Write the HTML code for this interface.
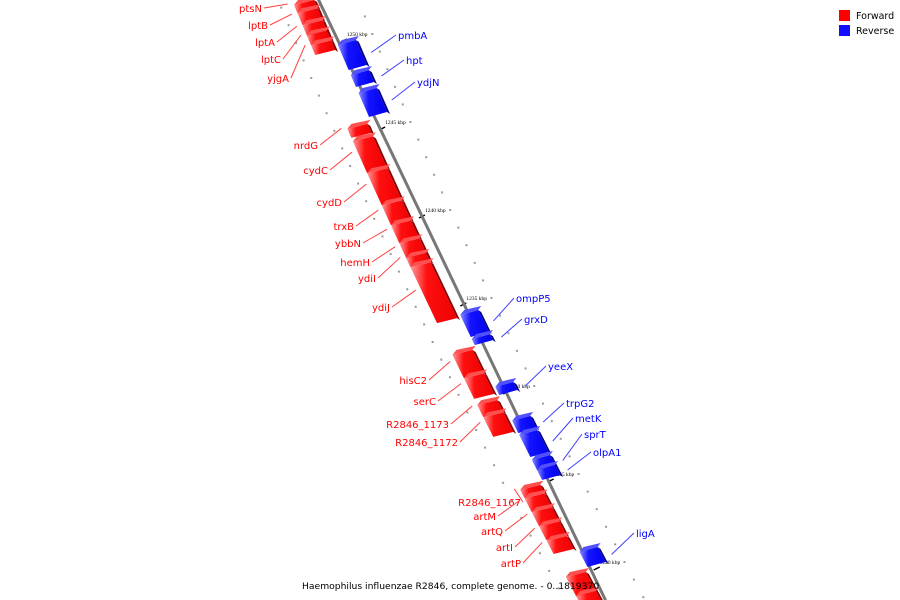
<!DOCTYPE html>
<html><head><meta charset="utf-8"><style>
html,body{margin:0;padding:0;background:#fff;}
svg{display:block;font-family:"DejaVu Sans","Liberation Sans",sans-serif;}
</style></head><body>
<svg id="chart" width="900" height="600" viewBox="0 0 900 600" xmlns="http://www.w3.org/2000/svg">
<defs>
<linearGradient id="gr" x1="0" x2="1" y1="0" y2="0"><stop offset="0" stop-color="#ff9a9a"/><stop offset="0.35" stop-color="#ff1010"/><stop offset="1" stop-color="#ee0000"/></linearGradient>
<linearGradient id="gb" x1="0" x2="1" y1="0" y2="0"><stop offset="0" stop-color="#8c8cff"/><stop offset="0.35" stop-color="#1414ff"/><stop offset="1" stop-color="#0000ee"/></linearGradient>
</defs>
<g id="ticks"></g>
<line id="axis" stroke="#777" stroke-width="3"/>
<g id="genes"></g>
<g id="labels"></g>
<g>
<rect x="839" y="10" width="11" height="11" fill="#ff0000"/>
<text x="856" y="19" font-size="9.5" fill="#000">Forward</text>
<rect x="839" y="25" width="11" height="11" fill="#1010ff"/>
<text x="856" y="34" font-size="9.5" fill="#000">Reverse</text>
</g>
<text x="302" y="589" font-size="9.2" fill="#000">Haemophilus influenzae R2846, complete genome. - 0..1819370</text>
</svg>
<script>
// data (kbp coordinates)
const tickKbp = [1250, 1245, 1240, 1235, 1230, 1225, 1220];
const fwdNames = ["ptsN","lptB","lptA","lptC","yjgA","nrdG","cydC","cydD","trxB","ybbN","hemH","ydiI","ydiJ","hisC2","serC","R2846_1173","R2846_1172","R2846_1167","artM","artQ","artI","artP","geneX1","geneX2"];
const fwdStart = [1251.93,1251.46,1250.78,1250.20,1249.64,1244.89,1244.18,1242.37,1240.55,1239.41,1238.39,1237.56,1237.03,1232.05,1230.72,1229.20,1228.50,1224.38,1223.90,1223.11,1222.31,1221.48,1219.43,1218.35];
const fwdEnd   = [1251.48,1250.80,1250.11,1249.66,1249.09,1244.38,1242.39,1240.57,1239.43,1238.41,1237.44,1237.05,1233.86,1230.74,1229.55,1228.52,1227.39,1223.92,1223.13,1222.33,1221.53,1220.74,1218.30,1217.27];
const fwdLabelX = [262,268,275,281,289,318,328,342,354,361,370,376,390,427,436,449,458,521,496,503,513,521,null,null];
const fwdLabelY = [12,29,46,63,82,149,174,206,230,247,266,282,311,384,405,428,446,506,520,535,551,567,null,null];
const revNames = ["pmbA","hpt","ydjN","ompP5","grxD","yeeX","trpG2","metK","sprT","olpA1","ligA"];
const revStart = [1249.66,1247.95,1246.93,1234.32,1232.95,1230.23,1228.30,1227.50,1226.08,1225.51,1220.85];
const revEnd   = [1248.24,1247.27,1245.57,1233.07,1232.61,1229.77,1227.61,1226.25,1225.45,1224.94,1220.00];
const revLabelX = [398,406,417,516,524,548,566,575,584,593,636];
const revLabelY = [39,64,86,302,323,370,407,422,438,456,537];

const NS="http://www.w3.org/2000/svg";
function yOf(k){ return 34 + (1250-k)*17.6; }
function xOf(y){ return 318 + 0.418*y + 0.0001*y*y; }
function mk(tag, attrs, parent){ const e=document.createElementNS(NS,tag); for(const a in attrs) e.setAttribute(a,attrs[a]); parent.appendChild(e); return e; }

const axis=document.getElementById('axis');
axis.setAttribute('x1', xOf(-10)); axis.setAttribute('y1', -10);
axis.setAttribute('x2', xOf(610)); axis.setAttribute('y2', 610);

const tg=document.getElementById('ticks');
for(let k=1253;k>=1217;k-=0.5){
  const y=yOf(k); const side=(Math.round(k*2)%2===0)?1:-1;
  const d=mk('rect',{x:xOf(y)+side*40-1,y:y-1,width:2,height:2,fill:'#999'},tg);
  
  
}
tickKbp.forEach((k)=>{
  const y=yOf(k)+6; const x=xOf(y);
  const l=mk('line',{x1:x+6,y1:y+2,x2:x+12,y2:y-1,stroke:'#000','stroke-width':1.5},tg);
  
  
  const t=mk('text',{x:x+12,y:y-4,'font-size':5.5,fill:'#000','font-family':'Liberation Serif, serif'},tg);
  t.textContent=k+' kbp';
  
  
});

const gg=document.getElementById('genes'), lg=document.getElementById('labels');
function block(k1,k2,fwd,name){
  const y1=yOf(k1), y2=yOf(k2);
  const o1 = fwd? -24 : 3, o2 = fwd? -4 : 21;
  const sh = 5;
  const g=mk('g',{},gg);
  
  
  const pts=[[xOf(y1)+o1,y1+sh],[xOf(y1)+o2,y1],[xOf(y2)+o2,y2],[xOf(y2)+o1,y2+sh]];
  mk('polygon',{points:pts.map(p=>p.join(',')).join(' '),fill:fwd?'url(#gr)':'url(#gb)'},g);
  const side=[[xOf(y1)+o2,y1],[xOf(y1)+o2+3,y1+2],[xOf(y2)+o2+3,y2+2],[xOf(y2)+o2,y2]];
  mk('polygon',{points:side.map(p=>p.join(',')).join(' '),fill:fwd?'#8a0000':'#00008a'},g);
  const cap=[[xOf(y1)+o1,y1+sh],[xOf(y1)+o1+4,y1+sh-5],[xOf(y1)+o2+3,y1-4],[xOf(y1)+o2,y1]];
  mk('polygon',{points:cap.map(p=>p.join(',')).join(' '),fill:fwd?'#ff5050':'#5050ff'},g);
  return {ym:(y1+y2)/2, xo:xOf((y1+y2)/2)+o1, xi:xOf((y1+y2)/2)+o2};
}
fwdNames.forEach((n,i)=>{
  const b=block(fwdStart[i],fwdEnd[i],true,n);
  if(fwdLabelX[i]===null) return;
  const ln=mk('line',{x1:fwdLabelX[i]+2,y1:fwdLabelY[i]-4,x2:b.xo-8,y2:b.ym,stroke:'#ff4040','stroke-width':1},lg);
  
  
  const t=mk('text',{x:fwdLabelX[i],y:fwdLabelY[i],'font-size':10,fill:'#ff0000','text-anchor':'end'},lg);
  t.textContent=n;
  
  
});
revNames.forEach((n,i)=>{
  const b=block(revStart[i],revEnd[i],false,n);
  const ln=mk('line',{x1:b.xi+10,y1:b.ym,x2:revLabelX[i]-2,y2:revLabelY[i]-4,stroke:'#4040ff','stroke-width':1},lg);
  
  
  const t=mk('text',{x:revLabelX[i],y:revLabelY[i],'font-size':10,fill:'#0000ff'},lg);
  t.textContent=n;
  
  
});
</script>
</body></html>
